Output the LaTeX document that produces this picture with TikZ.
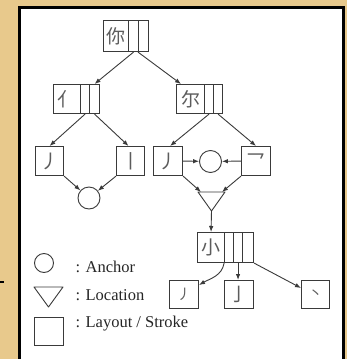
\documentclass[tikz,border=0pt]{standalone}
\usepackage{fontspec}
\setmainfont{Liberation Serif}
\newfontfamily\cjk{Noto Sans CJK SC}
\usetikzlibrary{arrows.meta,calc}
\definecolor{parch}{HTML}{E8C98C}
\definecolor{ln}{HTML}{3A3A3A}
\definecolor{chc}{HTML}{5C5C5C}
\begin{document}
\begin{tikzpicture}[x=1pt,y=-1pt,
  bx/.style={draw=ln,line width=1.1pt,inner sep=0pt,anchor=north west,text=chc,
    font=\cjk\fontsize{19}{19}\selectfont},
  sm/.style={bx,font=\cjk\fontsize{14}{14}\selectfont},
  anc/.style={draw=ln,line width=0.9pt,circle,inner sep=0pt,minimum size=#1},
  arr/.style={draw=ln,line width=0.9pt,-{Latex[length=6pt,width=4.5pt]}},
  lbl/.style={anchor=base west,font=\fontsize{16.5}{16.5}\selectfont,text=black!85}]
\useasboundingbox (0,0) rectangle (347,359);
\fill[parch] (0,0) rectangle (347,359);
\fill[white] (19.5,7.5) rectangle (343.5,361);
\draw[black,line width=3.5pt] (19.5,361) -- (19.5,7.5) -- (343.5,7.5) -- (343.5,361);
\draw[black,line width=1.2pt] (0,282) -- (4,282);
% top
\node[bx,minimum width=25pt,minimum height=31pt] (ni) at (103,20) {你};
\node[bx,minimum width=10pt,minimum height=31pt] (ni1) at (128,20) {};
\node[bx,minimum width=10pt,minimum height=31pt] (ni2) at (138,20) {};
% second level
\node[bx,minimum width=27pt,minimum height=29pt] (yi) at (53,84) {亻};
\node[bx,minimum width=9pt,minimum height=29pt] (yi1) at (80,84) {};
\node[bx,minimum width=10pt,minimum height=29pt] (yi2) at (89,84) {};
\node[bx,minimum width=28pt,minimum height=29pt] (er) at (176,84) {尔};
\node[bx,minimum width=9pt,minimum height=29pt] (er1) at (204,84) {};
\node[bx,minimum width=9pt,minimum height=29pt] (er2) at (213,84) {};
% third level
\node[bx,minimum width=28pt,minimum height=29pt] (p1) at (35,146) {丿};
\node[bx,minimum width=28pt,minimum height=29pt] (shu) at (116,146) {丨};
\node[bx,minimum width=29pt,minimum height=29pt] (p2) at (153,146) {丿};
\node[bx,minimum width=29pt,minimum height=29pt] (zhe) at (241,146) {乛};
\node[anc=22pt] (cm) at (210.5,161.5) {};
\node[anc=22pt] (cbl) at (89,198) {};
% triangle
\coordinate (tl) at (198,192);
\coordinate (tr) at (225,192);
\coordinate (tap) at (211.5,211);
\draw[ln,line width=0.9pt,line join=round] (tl) -- (tr) -- (tap) -- cycle;
\coordinate (tA) at (201,192);
\coordinate (tB) at (222,192);
% xiao
\node[bx,minimum width=27pt,minimum height=30pt] (xiao) at (197,232) {小};
\node[bx,minimum width=9pt,minimum height=30pt] (x1) at (224,232) {};
\node[bx,minimum width=9pt,minimum height=30pt] (x2) at (233,232) {};
\node[bx,minimum width=11pt,minimum height=30pt] (x3) at (242,232) {};
\node[sm,minimum width=29pt,minimum height=28pt] (p3) at (169,280) {丿};
\node[bx,minimum width=29pt,minimum height=28pt] (jue) at (224,280) {亅};
\node[sm,minimum width=28pt,minimum height=28pt] (dian) at (301,280) {丶};
\coordinate (p3in) at (199,285);
\coordinate (dianin) at (301,288);
% arrows
\draw[arr] (ni1.south) -- (yi2.north);
\draw[arr] (ni2.south west) -- ([xshift=5pt]er.north west);
\draw[arr] (yi1.south) -- (p1.north);
\draw[arr] (yi2.south) -- ([xshift=-2pt]shu.north);
\draw[arr] (er1.south) -- ([xshift=2pt]p2.north);
\draw[arr] (er2.south) -- (zhe.north);
\draw[arr] (p2.east) -- (cm);
\draw[arr] (zhe.west) -- (cm);
\draw[arr] (p1.south east) -- (cbl);
\draw[arr] (shu.south west) -- (cbl);
\draw[arr] (p2.south east) -- (tA);
\draw[arr] (zhe.south west) -- (tB);
\draw[arr] (tap) -- (xiao.north);
\draw[arr] ([xshift=-1pt]xiao.south east) to[out=-100,in=30] (p3in);
\draw[arr] (x2.south) -- (x2.south |- jue.north);
\draw[arr] (x3.south east) -- (dianin);
% legend
\node[anc=19pt] (lc) at (44,263) {};
\coordinate (la) at (34,287);
\coordinate (lb) at (63,287);
\coordinate (lcp) at (48.5,307);
\draw[ln,line width=0.9pt,line join=round] (la) -- (lb) -- (lcp) -- cycle;
\node[bx,minimum width=29pt,minimum height=28pt] (lsq) at (34,317) {};
\node[lbl] (t1) at (72,272) {: Anchor};
\node[lbl] (t2) at (72,300) {: Location};
\node[lbl] (t3) at (72,327) {: Layout / Stroke};
\end{tikzpicture}
\end{document}
